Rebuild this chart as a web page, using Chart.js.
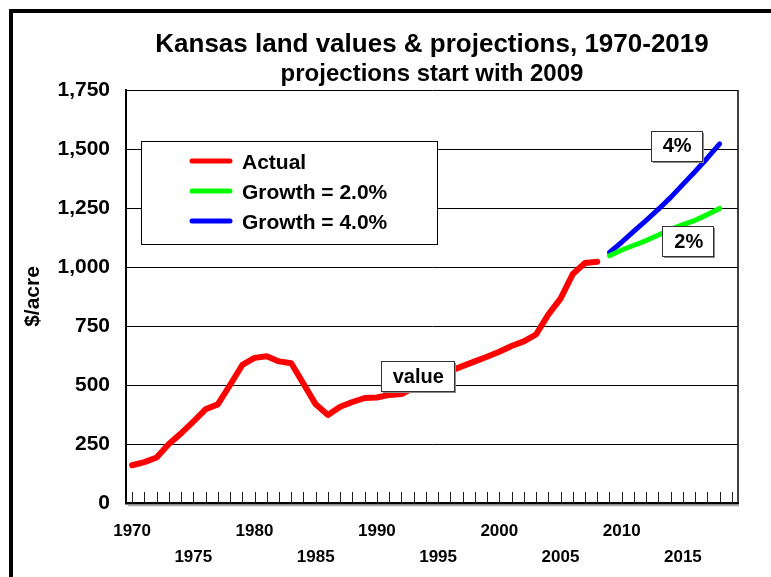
<!DOCTYPE html>
<html>
<head>
<meta charset="utf-8">
<script src="https://cdn.jsdelivr.net/npm/chart.js@4.4.1/dist/chart.umd.min.js"></script>
<style>
html, body { margin: 0; padding: 0; background: #fff; }
</style>
</head>
<body>
<canvas id="myChart" width="771" height="577"></canvas>
<script>
// x categories (one per year)
var years = ['1970', '1971', '1972', '1973', '1974', '1975', '1976', '1977', '1978', '1979',
             '1980', '1981', '1982', '1983', '1984', '1985', '1986', '1987', '1988', '1989',
             '1990', '1991', '1992', '1993', '1994', '1995', '1996', '1997', '1998', '1999',
             '2000', '2001', '2002', '2003', '2004', '2005', '2006', '2007', '2008', '2009',
             '2010', '2011', '2012', '2013', '2014', '2015', '2016', '2017', '2018', '2019'];

// Actual land value, $/acre, 1970-2008
var actual = [160, 173, 193, 250, 295, 345, 397, 418, 500, 585,
              615, 622, 600, 592, 505, 418, 373, 408, 428, 445,
              447, 458, 462, 488, 515, 540, 560, 580, 600, 620,
              641, 665, 685, 714, 798, 866, 970, 1017, 1022];

// Projections, 2009-2018
var projYears = ['2009', '2010', '2011', '2012', '2013', '2014', '2015', '2016', '2017', '2018'];
var growth2 = [1048, 1072, 1092, 1112, 1136, 1160, 1180, 1198, 1222, 1248];
var growth4 = [1062, 1105, 1152, 1198, 1245, 1295, 1350, 1405, 1462, 1522];

var yTicks = [0, 250, 500, 750, 1000, 1250, 1500, 1750];

var titleText = 'Kansas land values & projections, 1970-2019';
var subtitleText = 'projections start with 2009';

// boxed notes on the plot: text, anchored at (year index, value)
var notes = [
    { text: 'value', at: 23.3, val: 538 },
    { text: '4%', at: 44.45, val: 1513 },
    { text: '2%', at: 45.4, val: 1110 }
];

var FONT = "'Liberation Sans', Arial, Helvetica, sans-serif";

function pairs(xs, ys) //zip labels and values into {x, y} points
{
    var out = [];
    for (var i = 0; i < ys.length; i++) {
        out.push({ x: xs[i], y: ys[i] });
    }
    return out;
}

function boxText(ctx, text, cx, cy, size)
{
    ctx.font = 'bold ' + size + 'px ' + FONT;
    var w = Math.round(ctx.measureText(text).width + 22);
    var h = 30;
    var x = Math.round(cx - w / 2), y = Math.round(cy - h / 2);
    ctx.fillStyle = '#8a8a8a';
    ctx.fillRect(x + 2, y + 2, w, h);
    ctx.fillStyle = '#fff';
    ctx.fillRect(x, y, w, h);
    ctx.strokeStyle = '#333';
    ctx.lineWidth = 1;
    ctx.strokeRect(x + 0.5, y + 0.5, w, h);
    ctx.fillStyle = '#000';
    ctx.textAlign = 'center';
    ctx.textBaseline = 'middle';
    ctx.fillText(text, cx + 1, cy + 1);
}

var extras = {
    id: 'extras',
    beforeDraw: function (chart) {
        var ctx = chart.ctx;
        ctx.save();
        ctx.fillStyle = '#fff';
        ctx.fillRect(0, 0, chart.width, chart.height);
        ctx.restore();
    },
    afterDatasetsDraw: function (chart) {
        var ctx = chart.ctx;
        var xs = chart.scales.x, ys = chart.scales.y;
        var area = chart.chartArea;
        ctx.save();

        // small inward tick marks on the x axis, one per year
        ctx.strokeStyle = '#222';
        ctx.lineWidth = 1;
        for (var i = 0; i < years.length; i++) {
            var px = Math.round(xs.getPixelForValue(i)) + 0.5;
            ctx.beginPath();
            ctx.moveTo(px, area.bottom);
            ctx.lineTo(px, area.bottom - 11);
            ctx.stroke();
        }
        // faint shadow under the x axis
        ctx.strokeStyle = '#aaa';
        ctx.lineWidth = 1.5;
        ctx.beginPath();
        ctx.moveTo(area.left + 2, area.bottom + 2.5);
        ctx.lineTo(area.right + 1, area.bottom + 2.5);
        ctx.stroke();

        // right edge of the plot
        ctx.strokeStyle = '#000';
        ctx.lineWidth = 1.5;
        ctx.beginPath();
        ctx.moveTo(area.right, area.top);
        ctx.lineTo(area.right, area.bottom);
        ctx.stroke();

        // legend box
        var lx = 141, ly = 141, lw = 296, lh = 103;
        ctx.fillStyle = '#fff';
        ctx.fillRect(lx, ly, lw, lh);
        ctx.strokeStyle = '#000';
        ctx.lineWidth = 1;
        ctx.strokeRect(lx + 0.5, ly + 0.5, lw, lh);
        ctx.font = 'bold 21px ' + FONT;
        ctx.textAlign = 'left';
        ctx.textBaseline = 'middle';
        chart.data.datasets.forEach(function (ds, k) {
            var rowY = ly + 20 + k * 30;
            ctx.strokeStyle = ds.borderColor;
            ctx.lineWidth = 5;
            ctx.lineCap = 'round';
            ctx.beginPath();
            ctx.moveTo(lx + 51, rowY);
            ctx.lineTo(lx + 89, rowY);
            ctx.stroke();
            ctx.fillStyle = '#000';
            ctx.fillText(ds.label, lx + 101, rowY + 2);
        });

        // boxed notes
        notes.forEach(function (n) {
            boxText(ctx, n.text, xs.getPixelForValue(n.at), ys.getPixelForValue(n.val), 20);
        });
        ctx.restore();
    },
    afterDraw: function (chart) {
        var ctx = chart.ctx;
        ctx.save();
        ctx.strokeStyle = '#000';
        ctx.lineWidth = 4;
        ctx.strokeRect(11, 11, chart.width + 20, chart.height + 20);
        ctx.restore();
    }
};

var ctx = document.getElementById('myChart');
var myChart = new Chart(ctx,
{
    type: 'line',
    data:
    {
        labels: years,
        datasets:
        [
            {
                label: 'Actual',
                data: pairs(years, actual),
                borderColor: '#ff0000',
                borderWidth: 6
            },
            {
                label: 'Growth = 2.0%',
                data: pairs(projYears, growth2),
                borderColor: '#00ff00',
                borderWidth: 5
            },
            {
                label: 'Growth = 4.0%',
                data: pairs(projYears, growth4),
                borderColor: '#0000ff',
                borderWidth: 5
            }
        ]
    },
    options:
    {
        responsive: false,
        animation: false,
        devicePixelRatio: 1,
        layout: { padding: { left: 0, right: 33, top: 0, bottom: 0 } },
        elements: {
            point: { radius: 0, hoverRadius: 0 },
            line: { tension: 0, fill: false, borderCapStyle: 'round', borderJoinStyle: 'round' }
        },
        plugins: {
            legend: { display: false },
            tooltip: { enabled: false },
            title: {
                display: true,
                text: titleText,
                fullSize: false,
                color: '#000',
                font: { family: FONT, size: 26, weight: 'bold', lineHeight: 1.2 },
                padding: { top: 29, bottom: 0 }
            },
            subtitle: {
                display: true,
                text: subtitleText,
                fullSize: false,
                color: '#000',
                font: { family: FONT, size: 24, weight: 'bold', lineHeight: 1.2 },
                padding: { top: 0, bottom: 1 }
            }
        },
        scales:
        {
            x: {
                type: 'category',
                offset: true,
                grid: { drawOnChartArea: false, drawTicks: false },
                border: { color: '#000', width: 2.5 },
                ticks: {
                    autoSkip: false,
                    maxRotation: 0,
                    minRotation: 0,
                    padding: 15,
                    color: '#000',
                    font: { family: FONT, size: 17, weight: 'bold', lineHeight: 1.55 },
                    callback: function (v, i) {
                        var y = parseInt(years[i], 10);
                        if (y % 10 === 0) return years[i];
                        if (y % 5 === 0) return ['', years[i]];
                        return null;
                    }
                },
                afterFit: function (s) { s.height = 74; }
            },
            y: {
                min: yTicks[0],
                max: yTicks[yTicks.length - 1],
                afterBuildTicks: function (s) {
                    s.ticks = yTicks.map(function (v) { return { value: v }; });
                },
                grid: { color: '#000', lineWidth: 1, drawTicks: false },
                border: { color: '#000', width: 2 },
                ticks: {
                    padding: 16,
                    color: '#000',
                    font: { family: FONT, size: 21, weight: 'bold' },
                    callback: function (v) { return v.toLocaleString('en-US'); }
                },
                title: {
                    display: true,
                    text: '$/acre',
                    color: '#000',
                    font: { family: FONT, size: 21, weight: 'bold', lineHeight: 1.2 },
                    padding: { top: 21, bottom: 0 }
                },
                afterFit: function (s) { s.width = 126; }
            }
        }
    },
    plugins: [extras]
});
</script>
</body>
</html>
